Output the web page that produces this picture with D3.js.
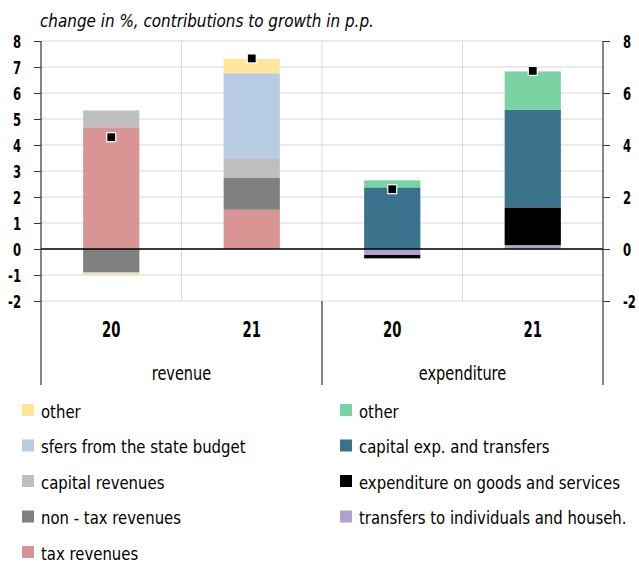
<!DOCTYPE html>
<html>
<head>
<meta charset="utf-8">
<script src="https://cdn.jsdelivr.net/npm/d3@7"></script>
<style>
  html, body { margin: 0; padding: 0; background: #fff; }
  svg text { font-family: "DejaVu Sans Condensed", "DejaVu Sans", sans-serif; fill: #000; }
</style>
</head>
<body>
<svg id="chart" width="639" height="563"></svg>
<script>
// Categories: year within each group
const categories = ["20", "21", "20", "21"];
const groups = ["revenue", "expenditure"];

// Contributions to growth (p.p.), one array per component, indexed like categories
const taxRevenues        = [4.68, 1.51, 0, 0];
const nonTaxRevenues     = [-0.90, 1.22, 0, 0];
const capitalRevenues    = [0.65, 0.73, 0, 0];
const transfersFromState = [-0.05, 3.30, 0, 0];
const otherRevenue       = [-0.07, 0.55, 0, 0];

const transfersHouseholds = [0, 0, -0.23, 0.15];
const goodsServices       = [0, 0, -0.13, 1.45];
const capitalExp          = [0, 0, 2.37, 3.76];
const otherExpenditure    = [0, 0, 0.27, 1.47];

// Total change in %
const totalChange = [4.30, 7.33, 2.30, 6.85];

const leftTicks = [-2, -1, 0, 1, 2, 3, 4, 5, 6, 7, 8];
const rightTicks = [-2, 0, 2, 4, 6, 8];

const series = [
  { key: "tax",      label: "tax revenues",                      values: taxRevenues,        color: "#d99594" },
  { key: "nontax",   label: "non - tax revenues",                values: nonTaxRevenues,     color: "#808080" },
  { key: "capital",  label: "capital revenues",                  values: capitalRevenues,    color: "#bfbfbf" },
  { key: "transfer", label: "sfers from the state budget",       values: transfersFromState, color: "#b8cce4" },
  { key: "otherRev", label: "other",                             values: otherRevenue,       color: "#ffe699" },
  { key: "hh",       label: "transfers to individuals and househ.", values: transfersHouseholds, color: "#b1a0c7" },
  { key: "goods",    label: "expenditure on goods and services", values: goodsServices,      color: "#000000" },
  { key: "capExp",   label: "capital exp. and transfers",        values: capitalExp,         color: "#3a728c" },
  { key: "otherExp", label: "other",                             values: otherExpenditure,   color: "#7ad3a0" }
];

const svg = d3.select("#chart");
const plot = { left: 41, right: 603, top: 41, bottom: 301 };

const x = d3.scaleBand().domain(d3.range(categories.length))
  .range([plot.left, plot.right]).paddingInner(0).paddingOuter(0);
const barW = x.bandwidth() * 0.4;
const y = d3.scaleLinear().domain([-2, 8]).range([plot.bottom, plot.top]);

// Text in a narrow face: horizontally compressed around its anchor point
function narrowText(parent, tx, ty, str, opts) {
  const o = Object.assign({ size: 18, sx: 0.75, anchor: "start", weight: "normal", style: "normal" }, opts);
  return parent.append("text")
    .attr("transform", `translate(${tx},${ty}) scale(${o.sx},1)`)
    .attr("text-anchor", o.anchor)
    .style("font-size", o.size + "px")
    .style("font-weight", o.weight)
    .style("font-style", o.style)
    .text(str);
}

// Horizontal gridlines
svg.append("g").selectAll("line").data(leftTicks).join("line")
  .attr("x1", plot.left).attr("x2", plot.right)
  .attr("y1", d => y(d)).attr("y2", d => y(d))
  .attr("stroke", "#d9d9d9").attr("stroke-width", 1);

// Vertical gridlines between categories
svg.append("g").selectAll("line").data(d3.range(1, categories.length)).join("line")
  .attr("x1", d => x(d)).attr("x2", d => x(d))
  .attr("y1", plot.top).attr("y2", plot.bottom)
  .attr("stroke", "#d9d9d9").attr("stroke-width", 1);

// Stacked bars (positive and negative parts stacked separately)
const rows = categories.map((c, i) => {
  const r = { idx: i };
  series.forEach(s => r[s.key] = s.values[i]);
  return r;
});
const stacked = d3.stack().keys(series.map(s => s.key))
  .offset(d3.stackOffsetDiverging)(rows);

svg.append("g").selectAll("g").data(stacked).join("g")
  .attr("fill", (d, i) => series[i].color)
  .selectAll("rect").data(d => d.filter(p => p[1] - p[0] !== 0)).join("rect")
  .attr("x", d => x(d.data.idx) + (x.bandwidth() - barW) / 2)
  .attr("width", barW)
  .attr("y", d => y(Math.max(d[0], d[1])))
  .attr("height", d => Math.abs(y(d[0]) - y(d[1])));

// Zero line
svg.append("line")
  .attr("x1", plot.left).attr("x2", plot.right)
  .attr("y1", y(0)).attr("y2", y(0))
  .attr("stroke", "#000").attr("stroke-width", 1.5);

// Total markers
const mk = 9;
svg.append("g").selectAll("rect").data(totalChange).join("rect")
  .attr("x", (d, i) => x(i) + x.bandwidth() / 2 - mk / 2)
  .attr("y", d => y(d) - mk / 2)
  .attr("width", mk).attr("height", mk)
  .attr("fill", "#000").attr("stroke", "#fff").attr("stroke-width", 1.2);

// Left and right axes (tick marks from d3, labels in a narrow face)
const fmt = d => (d < 0 ? "-" + Math.abs(d) : String(d));
const leftAxis = svg.append("g").attr("transform", `translate(${plot.left},0)`)
  .call(d3.axisLeft(y).tickValues(leftTicks).tickSize(7).tickFormat(""));
leftAxis.select(".domain").remove();
leftAxis.selectAll("line").attr("stroke", "#333");
const leftLabels = svg.append("g");
leftTicks.forEach(t => narrowText(leftLabels, 21, y(t) + 6.5, fmt(t),
  { size: 18, sx: 0.72, anchor: "end", weight: "bold" }));

const rightAxis = svg.append("g").attr("transform", `translate(${plot.right},0)`)
  .call(d3.axisRight(y).tickValues(rightTicks).tickSize(7).tickFormat(""));
rightAxis.select(".domain").remove();
rightAxis.selectAll("line").attr("stroke", "#333");
const rightLabels = svg.append("g");
rightTicks.forEach(t => narrowText(rightLabels, 623, y(t) + 6.5, fmt(t),
  { size: 18, sx: 0.72, anchor: "start", weight: "bold" }));

// Axis lines extended down through the category area
const axisBottom = 385;
[plot.left, x(2), plot.right].forEach((xx, i) => {
  svg.append("line")
    .attr("x1", xx).attr("x2", xx)
    .attr("y1", i === 1 ? plot.bottom : plot.top).attr("y2", axisBottom)
    .attr("stroke", "#333").attr("stroke-width", 1.2);
});

// Category labels
const catG = svg.append("g");
categories.forEach((c, i) => narrowText(catG, x(i) + x.bandwidth() / 2, 337, c,
  { size: 21, sx: 0.7, anchor: "middle", weight: "bold" }));

// Group labels
const grpG = svg.append("g");
groups.forEach((g, i) => narrowText(grpG, (x(i * 2) + x(i * 2 + 1) + x.bandwidth()) / 2, 380, g,
  { size: 19, sx: 0.85, anchor: "middle" }));

// Title
narrowText(svg, 40, 27, "change in %, contributions to growth in p.p.",
  { size: 17.5, sx: 0.965, style: "italic" });

// Legend: revenue components left, expenditure components right (top item = top of stack)
const legendLeft = series.slice(0, 5).reverse();
const legendRight = series.slice(5).reverse();
const rowH = 35.5;
function drawLegend(items, x0) {
  items.forEach((d, i) => {
    const g = svg.append("g").attr("transform", `translate(${x0},${404 + i * rowH})`);
    g.append("rect").attr("width", 12).attr("height", 12).attr("fill", d.color);
    narrowText(g, 19, 13.5, d.label, { size: 18.5, sx: 0.895 });
  });
}
drawLegend(legendLeft, 22);
drawLegend(legendRight, 340);
</script>
</body>
</html>
